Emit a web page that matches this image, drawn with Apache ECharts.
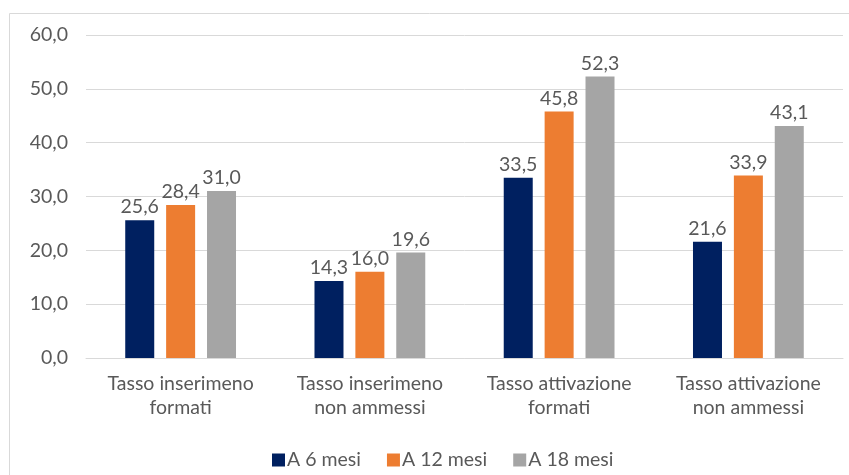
<!DOCTYPE html>
<html><head><meta charset="utf-8">
<script src="https://cdn.jsdelivr.net/npm/echarts@6/dist/echarts.min.js"></script>
<style>html,body{margin:0;padding:0;background:#fff}#c{width:849px;height:475px}</style>
</head><body><div id="c"></div>
<script>
var categories = ["Tasso inserimeno\nformati", "Tasso inserimeno\nnon ammessi", "Tasso attivazione\nformati", "Tasso attivazione\nnon ammessi"];
var seriesNames = ["A 6 mesi", "A 12 mesi", "A 18 mesi"];
var a6 = [25.6, 14.3, 33.5, 21.6];
var a12 = [28.4, 16.0, 45.8, 33.9];
var a18 = [31.0, 19.6, 52.3, 43.1];
var colors = ["#002060", "#ED7D31", "#A5A5A5"];
var FONT = "Lato";
var TXT = "#595959";
function fmt(v){ return Number(v).toFixed(1).replace('.', ','); }
var chart = echarts.init(document.getElementById('c'), null, {renderer:'canvas'});
function mk(name, data, color){
  return {
    name: name, type: 'bar', data: data, barWidth: 29, barGap: '41%',
    itemStyle: {color: color},
    label: {show: true, position: 'top', distance: 3, color: TXT, fontFamily: FONT, fontSize: 19.5,
      formatter: function(p){ return fmt(p.value); }}
  };
}
chart.setOption({
  animation: false,
  color: colors,
  graphic: [{type: 'rect', shape: {x: 9.5, y: 13.5, width: 900, height: 500}, style: {fill: null, stroke: '#D9D9D9', lineWidth: 1}, silent: true}],
  grid: {left: 86, right: 6, top: 35, bottom: 117, containLabel: false},
  xAxis: {
    type: 'category', data: categories,
    axisLine: {show: true, lineStyle: {color: '#D9D9D9', width: 1}},
    axisTick: {show: false},
    axisLabel: {color: TXT, fontFamily: FONT, fontSize: 19.5, lineHeight: 24, margin: 14, interval: 0}
  },
  yAxis: {
    type: 'value', min: 0, max: 60, interval: 10,
    axisLine: {show: false}, axisTick: {show: false},
    splitLine: {lineStyle: {color: '#D9D9D9', width: 1}},
    axisLabel: {color: TXT, fontFamily: FONT, fontSize: 19.5, margin: 18, formatter: function(v){ return fmt(v); }}
  },
  legend: {
    data: seriesNames, left: 267, top: 445, itemWidth: 13, itemHeight: 13, itemGap: 26,
    icon: 'rect',
    textStyle: {color: TXT, fontFamily: FONT, fontSize: 19.5, padding: [0,0,0,-3]}
  },
  series: [mk(seriesNames[0], a6, colors[0]), mk(seriesNames[1], a12, colors[1]), mk(seriesNames[2], a18, colors[2])]
});
</script></body></html>
